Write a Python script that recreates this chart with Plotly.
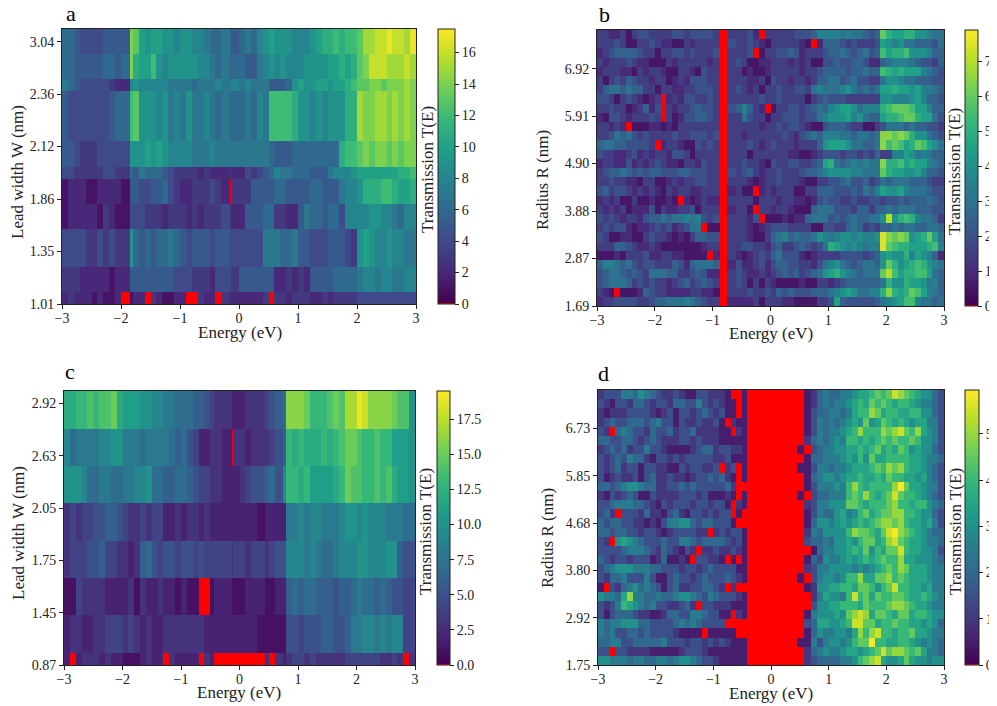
import numpy as np
import plotly.colors as pc
import plotly.graph_objects as go

# Values, rows go bottom to top, 0 means below the colour range (red)

# panel a: T(E), 11 rows x 60 energy bins
rows_a = [
    [2,3,2,2,2,1,2,1,1,2, 0,1,2,2,0,3,2,1,1,2, 2,0,0,3,2,2,0,3,2,2, 2,2,2,2,3,0,3,3,2,3, 3,3,2,2,3,2,3,3,3,3, 4,4,4,4,4,4,4,4,4,4],
    [3,3,3,2,2,2,2,2,1,2, 2,5,5,5,5,5,5,5,5,4, 4,4,3,3,3,2,4,4,4,3, 5,5,5,5,5,5,2,2,3,2, 3,2,5,5,5,5,6,6,6,6, 7,8,8,7,8,8,7,7,8,8],
    [4,4,4,4,3,3,4,3,4,3, 3,9,6,5,6,5,6,6,7,6, 5,4,5,5,5,4,5,5,4,4, 4,4,4,4,7,7,7,6,6,7, 5,5,4,4,4,5,5,5,4,3, 9,10,9,8,8,9,8,8,7,7],
    [1,2,2,2,2,2,1,3,2,1, 1,4,4,4,3,3,3,2,3,3, 3,2,3,2,3,3,3,4,3,2, 2,5,5,5,6,6,3,3,2,2, 5,7,6,6,5,6,6,4,8,8, 8,8,9,9,8,8,7,6,8,8],
    [1,2,2,2,1,1,2,2,2,2, 1,5,5,4,4,5,5,6,4,3, 2,2,3,3,3,4,3,2,0,3, 3,3,5,5,5,5,6,6,5,5, 5,5,6,6,5,5,5,7,8,8, 9,11,11,11,12,12,11,10,10,11],
    [4,4,3,3,3,3,3,4,4,3, 3,6,5,7,6,6,6,5,4,3, 3,3,3,2,3,2,2,2,3,2, 2,4,3,4,5,6,8,7,7,6, 6,6,5,5,5,7,8,8,8,9, 10,10,10,10,10,10,10,11,11,12],
    [5,5,4,3,3,3,4,4,4,4, 4,9,9,9,10,9,10,9,8,8, 8,8,7,7,7,8,7,7,7,7, 7,7,7,7,7,6,5,5,5,6, 6,6,6,6,6,6,6,11,12,12, 13,14,13,14,14,13,14,13,14,14],
    [5,4,4,4,4,4,4,4,5,6, 6,12,13,9,9,9,8,9,7,8, 7,9,7,7,8,7,6,7,6,6, 6,7,6,8,7,12,12,12,12,11, 9,9,8,9,8,9,9,9,11,11, 15,14,14,15,15,14,15,14,15,14],
    [7,6,5,4,4,4,4,4,3,2, 2,8,9,8,8,8,8,8,7,7, 7,7,6,7,7,7,8,7,7,8, 7,8,7,7,7,5,5,5,6,9, 10,9,9,10,10,9,10,10,11,12, 13,13,14,14,13,14,14,14,15,14],
    [6,6,5,5,5,5,5,6,6,5, 6,14,11,10,10,12,9,8,9,9, 9,9,9,8,8,7,6,7,5,6, 6,5,5,7,8,9,8,9,8,8, 8,9,9,9,9,10,10,11,10,11, 13,14,16,16,16,15,15,15,16,15],
    [6,6,5,4,4,4,4,5,5,5, 5,14,13,10,9,10,10,9,9,8, 9,9,8,8,7,6,6,7,6,5, 6,7,6,8,9,10,9,9,9,8, 8,8,9,10,11,11,12,11,12,12, 13,15,15,16,16,17,16,16,15,17],
]
ticks_a = ["1.01", "1.35", "1.86", "2.12", "2.36", "3.04"]
row_edges_a = [0, 0.235, 0.71, 1.42, 1.9, 2.38, 2.62, 3.1, 4.05, 4.29, 4.76, 5.24]

# panel c: T(E), 8 rows x 60 energy bins
rows_c = [
    [2,0,2,3,3,3,2,3,2,2, 1,1,1,2,3,2,2,0,3,2, 2,2,2,0,3,2,0,0,0,0, 0,0,0,0,3,0,3,2,3,4, 4,3,4,3,3,3,3,3,4,4, 4,4,4,4,3,3,4,3,0,3],
    [2,3,3,2,2,3,3,4,4,4, 3,4,3,2,3,2,2,3,3,3, 3,3,3,3,2,2,2,2,2,2, 2,2,2,1,1,1,1,1,5,5, 4,5,5,5,6,6,5,5,6,8, 8,9,9,8,9,8,9,9,4,4],
    [1,1,4,3,3,3,3,2,2,2, 2,3,1,3,2,2,3,2,2,1, 2,1,1,0,0,1,2,2,1,1, 1,2,2,2,1,1,2,2,6,7, 6,7,7,6,6,6,5,6,6,7, 8,7,7,6,7,6,5,5,4,4],
    [3,4,4,4,5,5,6,4,4,3, 3,2,3,6,7,5,4,5,5,4, 5,5,4,5,4,4,4,4,3,4, 4,3,4,4,3,4,5,5,9,9, 9,8,9,8,7,7,8,9,9,9, 10,10,9,9,9,10,10,6,5,5],
    [3,4,3,4,4,5,5,6,6,5, 4,3,3,4,3,4,4,2,2,3, 2,3,3,2,3,2,2,2,2,2, 2,2,2,1,2,2,2,2,8,8, 9,8,9,9,8,8,8,9,10,10, 9,10,9,9,9,8,8,8,7,7],
    [10,10,10,9,7,7,8,8,7,7, 8,8,9,9,10,7,7,6,6,7, 7,6,5,4,4,3,3,2,2,2, 3,4,5,5,6,7,5,9,13,13, 12,13,11,11,11,11,12,13,15,14, 14,13,13,14,13,14,12,11,11,10],
    [9,7,8,8,8,8,9,9,10,10, 8,8,8,7,8,8,8,8,7,6, 7,5,4,2,2,3,3,2,0,3, 3,2,3,3,3,4,5,6,13,12, 13,12,12,12,13,12,13,14,15,15, 14,13,13,14,13,13,11,11,11,10],
    [12,12,13,13,14,13,14,14,15,12, 11,11,11,10,10,9,9,8,8,7, 7,7,6,6,5,4,3,3,2,2, 2,3,3,3,4,5,6,7,16,16, 16,15,13,13,13,14,15,14,17,17, 19,18,16,16,16,16,15,14,14,10],
]
ticks_c = ["0.87", "1.45", "1.75", "2.05", "2.63", "2.92"]
row_edges_c = [0, 0.236, 0.955, 1.67, 2.37, 3.09, 3.80, 4.52, 5.24]

# panel b: T(E) in half units, 30 rows x 59 energy bins
rows_b = [
    [2,3,3,4,4,4,4,3,3,4, 5,5,6,6,6,7,6,5,4,3, 3,0,2, 2,2,2,3,1,3, 3,3,2,2,1,1,1,1,3,3, 4,9,5,4,4,4,4,4,5,6, 7,8,9,11,11,7,6,6,5,6],
    [3,2,1,0,1,1,1,2,5,4, 3,3,2,2,2,2,3,3,2,2, 1,0,3, 3,3,4,3,3,4, 3,5,4,5,4,4,4,5,5,5, 6,7,8,9,8,6,6,7,7,10, 13,10,9,10,12,11,9,7,6,5],
    [4,5,6,6,6,5,3,4,3,4, 3,3,2,3,4,5,3,4,5,4, 3,0,3, 4,3,1,3,1,3, 2,1,1,1,1,2,1,1,3,3, 2,3,4,5,5,5,5,5,5,6, 10,8,8,10,9,9,8,6,7,5],
    [4,5,6,6,5,4,5,4,3,6, 6,6,5,5,3,3,4,5,4,2, 2,0,3, 4,3,2,2,3,2, 3,4,5,4,5,3,4,5,6,8, 9,10,8,7,6,5,6,6,6,12, 14,11,9,10,10,11,11,9,6,5],
    [5,7,7,6,5,6,4,3,4,4, 3,3,3,5,4,2,5,6,6,6, 5,0,2, 4,2,2,3,4,2, 4,5,5,4,4,3,3,2,4,6, 7,8,6,5,4,5,6,6,5,8, 12,10,8,9,10,11,10,8,7,6],
    [1,1,1,2,1,3,3,3,4,2, 2,3,3,2,2,1,1,1,1,0, 2,0,3, 2,1,2,3,4,3, 5,6,4,4,4,2,1,2,3,3, 3,3,4,4,4,4,3,4,5,8, 9,8,8,10,7,9,8,7,5,2],
    [3,3,3,5,5,4,3,2,2,3, 2,1,1,1,1,1,1,1,2,3, 3,0,3, 3,4,4,3,3,2, 4,5,3,3,4,5,4,3,4,6, 10,9,8,7,8,7,6,7,7,15, 12,11,10,10,9,9,9,10,11,7],
    [4,3,1,1,2,2,1,1,3,4, 3,3,2,1,2,1,3,5,5,4, 4,0,3, 3,3,2,1,1,3, 5,6,7,5,6,5,5,6,8,7, 6,7,8,8,7,8,7,7,8,15, 13,12,13,12,8,9,10,12,9,6],
    [3,4,3,4,4,2,1,2,2,3, 4,3,4,2,3,4,6,6,0,1, 1,0,3, 3,3,2,1,2,3, 4,4,4,3,3,3,3,1,1,4, 4,3,3,5,6,5,3,4,3,5, 5,6,5,6,6,5,5,6,6,5],
    [4,3,4,3,2,3,3,2,4,5, 5,6,5,6,6,7,6,7,4,3, 4,0,3, 3,3,2,4,0,1, 1,1,2,1,2,2,5,6,6,6, 4,5,4,5,6,5,5,6,6,8, 14,8,10,11,10,7,6,6,5,3],
    [3,2,3,2,3,1,2,2,2,4, 1,3,2,2,3,3,4,1,3,3, 3,0,2, 3,3,1,0,3,3, 2,3,3,2,1,1,1,5,6,6, 6,4,4,4,3,5,5,3,5,5, 6,5,6,6,6,5,5,5,4,4],
    [2,3,2,3,1,1,3,1,1,2, 1,1,2,1,0,2,1,2,3,2, 2,0,3, 3,3,3,1,3,3, 3,2,3,3,2,2,1,2,4,5, 4,4,3,3,4,3,3,4,4,3, 4,4,5,4,5,5,5,6,5,4],
    [4,5,3,4,4,3,2,3,2,3, 2,1,3,2,3,3,2,2,3,3, 3,0,2, 3,1,1,0,2,3, 2,3,3,3,1,1,3,3,5,5, 5,4,4,4,5,4,6,5,7,9, 8,8,9,7,6,6,6,5,4,4],
    [3,3,4,3,3,2,2,1,3,3, 1,1,2,3,2,3,3,4,4,3, 3,0,3, 3,3,2,1,2,3, 3,4,3,3,3,2,1,1,3,3, 4,4,5,6,4,4,5,3,4,6, 5,6,6,6,5,5,5,4,3,3],
    [3,4,5,5,6,5,4,5,4,5, 5,4,4,4,5,5,4,4,4,3, 3,0,4, 3,4,5,3,2,3, 3,4,3,3,3,4,5,5,6,7, 8,8,8,8,7,7,6,6,6,12, 10,9,9,8,8,9,7,5,5,4],
    [2,3,3,2,2,4,2,3,2,3, 4,3,2,2,1,3,3,2,4,3, 3,0,3, 3,4,3,3,2,1, 4,3,3,4,4,3,3,4,5,9, 10,6,5,6,7,6,7,6,6,13, 10,10,11,9,10,9,9,7,6,5],
    [4,3,3,2,2,3,4,2,3,2, 3,3,2,4,4,3,1,3,3,3, 3,0,3, 3,3,1,3,3,3, 3,3,3,2,2,1,1,2,3,4, 4,4,3,4,4,3,4,3,5,3, 3,7,7,9,8,6,7,6,5,5],
    [5,6,6,5,5,4,4,4,4,3, 0,2,3,3,2,1,1,4,3,4, 3,0,3, 3,3,4,3,2,3, 4,3,3,3,2,3,3,3,5,8, 9,9,9,8,6,6,5,5,6,13, 11,12,11,9,10,12,11,9,8,6],
    [3,3,4,6,5,6,4,3,4,3, 3,3,3,4,3,3,4,4,4,3, 4,0,3, 3,2,3,3,3,3, 3,3,4,3,2,4,5,6,5,7, 7,7,6,6,5,6,6,5,6,13, 13,12,13,12,10,8,8,6,5,4],
    [3,3,2,3,2,0,1,1,1,2, 2,1,2,1,3,3,3,3,3,3, 3,0,3, 3,3,3,3,2,3, 3,4,3,4,4,3,2,1,1,4, 5,5,5,4,3,3,1,1,3,4, 6,6,6,5,6,5,5,4,4,3],
    [2,1,4,4,3,2,3,3,3,4, 3,0,3,1,2,4,4,5,5,4, 3,0,3, 3,6,4,3,3,1, 3,3,4,4,4,3,4,4,6,7, 8,8,8,9,7,8,6,5,5,9, 10,10,11,12,12,10,9,9,6,4],
    [3,3,4,3,3,1,2,3,5,2, 4,0,3,2,3,3,4,5,4,4, 3,0,4, 5,7,5,3,2,0, 1,3,3,4,4,3,4,5,6,5, 7,8,9,9,8,6,7,7,7,10, 11,12,12,12,11,9,9,7,5,5],
    [4,4,3,1,3,4,3,2,1,2, 3,0,2,3,2,4,4,3,3,4, 3,0,3, 3,3,3,3,4,3, 3,4,3,3,3,3,1,3,4,5, 4,4,4,3,3,3,3,3,3,8, 8,7,7,7,8,9,7,5,5,4],
    [3,5,6,6,5,6,5,5,3,3, 1,3,3,2,2,3,3,4,4,4, 3,0,3, 4,3,2,3,1,3, 3,4,3,3,4,4,3,6,7,6, 6,6,7,8,6,5,6,5,6,9, 9,10,9,9,8,9,7,7,6,5],
    [3,1,3,4,3,5,4,3,3,2, 3,3,1,2,3,2,4,4,4,3, 3,0,3, 3,3,2,2,3,1, 4,3,3,2,3,3,2,3,5,5, 6,6,4,5,6,4,4,3,3,6, 8,8,7,6,6,5,5,5,4,4],
    [2,3,3,3,2,2,1,3,2,3, 3,2,1,1,3,3,2,1,4,3, 3,0,3, 3,1,2,1,1,2, 3,3,3,3,3,2,3,3,4,5, 5,5,5,4,5,5,6,5,5,11, 10,9,10,9,9,9,7,6,5,4],
    [3,2,3,3,3,4,3,2,2,1, 1,1,3,2,3,3,3,3,3,2, 3,0,3, 4,3,1,1,2,2, 3,3,3,2,3,2,3,1,1,4, 4,5,4,4,5,5,4,2,2,5, 6,7,7,7,6,5,4,4,3,5],
    [2,3,4,5,5,5,5,4,3,3, 1,3,3,4,4,3,4,3,3,3, 4,0,3, 3,3,4,0,1,3, 3,4,4,5,4,2,3,3,3,4, 5,5,6,5,4,5,6,4,5,11, 9,10,10,11,8,8,8,7,5,5],
    [3,3,3,4,3,1,1,3,3,4, 3,2,2,1,1,3,2,3,3,3, 3,0,4, 3,3,4,3,2,1, 3,3,3,3,3,2,1,0,2,5, 5,5,4,3,4,3,3,3,4,9, 8,7,8,6,6,5,5,5,4,6],
    [3,3,2,2,3,1,3,4,4,3, 3,3,3,4,4,3,4,4,4,4, 3,0,3, 3,3,4,2,0,3, 3,3,3,3,4,4,4,5,7,7, 7,7,6,7,6,6,5,4,5,12, 10,9,9,10,10,8,8,7,6,6],
]
ticks_b = ["1.69", "2.87", "3.88", "4.90", "5.91", "6.92"]

# panel d: T(E) in half units, 30 rows x 52 energy bins
rows_d = [
    [6,6,5,5,5,4,5,5,4,4, 5,5,4,5,6,6,5,4,3,3, 2,1,1,1,1, 1,0,0,2, 3,4,4, 4,4,5,5,6,8,9,10,11,7, 6,6,7,9,7,6,6,5,6,6],
    [3,3,0,3,3,2,2,2,2,1, 1,1,1,1,2,3,3,3,2,1, 1,1,1,1,1, 1,0,0,2, 4,5,6, 5,5,6,7,7,6,7,8,9,11, 9,10,10,9,8,9,7,5,5,4],
    [4,4,5,5,3,3,4,4,4,4, 4,5,3,3,3,2,3,3,2,3, 2,3,2,1,1, 1,0,1,1, 5,3,5, 6,6,5,6,8,9,9,12,8,8, 7,7,8,8,7,6,5,6,5,4],
    [5,4,5,3,3,4,4,3,4,3, 3,3,3,2,1,1,1,1,0,1, 1,1,1,1,0, 0,0,0,1, 4,6,5, 5,6,6,5,7,10,8,10,11,8, 8,7,8,8,9,7,7,6,5,5],
    [5,4,5,5,6,6,6,4,4,3, 3,3,3,4,5,4,5,4,3,3, 3,3,0,0,0, 0,0,0,3, 4,7,7, 6,6,7,8,11,11,9,9,7,8, 8,9,8,8,7,7,6,7,6,4],
    [3,1,3,4,4,4,3,2,2,1, 1,2,4,4,3,3,5,5,4,3, 3,1,1,0,2, 1,0,0,1, 5,6,6, 6,7,6,9,10,11,10,7,9,9, 8,7,9,9,7,8,8,7,6,6],
    [3,2,3,5,8,7,6,5,4,5, 3,3,2,2,3,4,2,0,3,3, 2,2,2,1,1, 1,0,0,0, 3,6,6, 7,7,8,8,8,7,9,8,8,8, 9,10,10,9,8,7,7,6,5,5],
    [6,5,5,4,7,10,5,5,4,4, 5,4,4,5,6,6,5,4,3,5, 4,3,3,3,2, 1,0,0,0, 2,5,7, 6,6,5,8,11,8,9,7,9,8, 8,9,9,8,7,7,8,7,6,5],
    [1,0,3,2,4,5,6,4,5,4, 3,1,3,4,2,2,3,3,4,4, 3,2,0,2,0, 0,0,0,1, 2,6,6, 7,7,8,8,7,9,9,8,6,8, 9,11,8,8,7,7,6,7,5,5],
    [3,2,4,4,5,3,3,3,5,3, 1,1,3,4,3,3,2,3,4,3, 3,3,4,3,2, 1,0,1,0, 3,5,6, 6,5,6,8,8,10,7,7,9,9, 10,8,9,8,7,7,7,6,5,5],
    [3,4,5,6,6,6,5,5,5,4, 4,3,3,3,2,3,3,2,3,4, 3,3,3,3,1, 1,0,0,2, 3,5,5, 6,6,6,6,5,6,5,6,7,8, 9,8,10,9,7,7,7,6,5,5],
    [4,3,2,3,3,2,3,3,3,1, 2,4,1,1,2,1,0,3,3,2, 2,1,0,1,0, 1,0,0,1, 4,3,6, 5,5,6,7,6,7,8,7,8,9, 8,8,10,7,7,6,6,6,5,4],
    [3,3,3,3,4,5,5,5,4,3, 2,4,3,2,1,3,2,0,2,2, 3,2,2,3,2, 1,0,0,0, 1,4,5, 5,6,6,7,8,7,9,6,8,7, 9,9,11,8,7,7,6,6,5,3],
    [3,2,0,6,7,6,5,4,3,3, 3,4,3,3,5,5,4,3,4,4, 4,4,3,2,3, 1,0,0,3, 4,4,5, 4,6,6,7,6,8,9,9,7,8, 10,11,9,8,7,7,6,5,5,4],
    [4,4,3,4,4,3,3,2,3,3, 2,1,2,3,3,3,3,2,2,0, 2,3,2,3,3, 1,0,0,2, 5,4,6, 6,6,6,8,10,9,9,8,7,9, 11,12,10,9,8,7,6,5,4,4],
    [4,3,4,4,3,3,2,2,1,2, 1,3,5,5,6,6,4,3,4,4, 3,3,3,1,0, 0,0,0,1, 4,6,6, 5,6,7,6,7,8,7,8,9,10, 10,9,10,8,7,7,6,7,5,3],
    [3,4,2,0,3,3,3,2,4,2, 2,1,3,4,2,1,3,3,2,3, 2,3,3,0,1, 0,0,0,1, 3,5,4, 4,6,7,5,6,8,9,7,8,9, 9,10,10,8,8,7,6,6,4,3],
    [3,3,4,5,5,5,4,4,3,2, 1,3,2,3,3,3,2,3,3,2, 3,3,1,0,2, 1,0,0,2, 3,5,5, 6,6,6,9,9,8,7,8,8,8, 9,10,8,8,7,8,8,6,5,4],
    [2,1,3,2,3,4,3,1,1,3, 2,2,2,2,3,3,3,2,3,1, 1,1,2,1,0, 1,0,1,0, 3,4,4, 5,5,5,8,9,8,10,8,7,8, 9,11,9,8,8,7,6,5,4,3],
    [4,4,3,4,5,6,6,5,4,4, 2,2,3,3,4,3,4,3,3,3, 3,3,4,2,0, 0,0,0,1, 3,5,5, 5,6,5,8,10,8,7,8,8,8, 8,10,12,9,7,7,6,5,5,3],
    [3,1,2,3,2,2,3,1,3,4, 2,2,3,2,2,1,2,3,3,4, 3,4,2,1,0, 1,0,0,1, 4,5,6, 6,5,6,7,7,8,7,7,8,7, 9,8,8,7,7,6,7,5,4,3],
    [3,2,3,4,2,3,3,1,3,3, 2,2,1,1,3,2,3,3,2,2, 3,0,2,3,0, 1,0,1,1, 3,5,5, 4,5,5,6,7,7,7,8,9,8, 10,9,10,8,7,7,6,5,4,3],
    [3,2,3,4,3,5,4,4,2,1, 3,3,2,3,2,3,3,3,3,3, 2,2,3,1,1, 1,0,0,1, 4,4,5, 5,5,6,7,6,8,6,9,7,7, 8,8,8,8,7,7,6,5,5,4],
    [2,3,4,3,4,2,3,3,5,3, 3,2,1,1,1,1,2,3,4,4, 2,3,3,2,2, 1,0,1,0, 3,4,5, 5,6,6,7,7,8,7,8,9,7, 8,7,9,8,6,7,6,6,4,3],
    [4,4,3,3,4,4,3,2,3,4, 3,2,2,2,3,3,2,3,2,2, 2,1,1,1,1, 1,0,0,2, 4,5,4, 5,6,5,8,8,7,8,7,8,9, 8,9,8,8,9,8,6,6,5,3],
    [3,2,0,4,5,4,3,3,2,4, 3,3,4,2,3,3,4,2,2,2, 2,1,1,0,2, 1,0,0,1, 3,5,4, 5,5,6,7,8,10,8,8,8,10, 9,10,11,9,8,10,7,6,5,3],
    [2,3,4,3,3,4,4,4,3,4, 5,3,3,1,3,2,2,3,2,2, 3,1,0,2,1, 1,0,0,1, 3,5,4, 5,4,5,6,7,6,9,6,7,9, 8,7,8,7,6,7,7,5,5,3],
    [2,1,2,2,2,3,3,3,3,2, 1,2,3,1,3,3,2,3,4,3, 2,3,1,1,0, 1,0,0,1, 3,4,4, 5,5,4,5,7,8,8,10,9,7, 8,8,7,7,8,8,6,6,4,3],
    [3,2,1,3,3,2,4,4,3,2, 3,3,2,4,4,3,3,5,3,2, 3,2,1,1,0, 1,0,0,1, 2,4,5, 4,5,5,6,7,8,7,9,8,9, 8,7,8,8,7,6,5,5,4,3],
    [2,3,3,3,5,5,4,6,5,4, 3,2,2,3,2,1,1,3,3,2, 2,2,1,0,0, 1,0,0,1, 2,4,5, 4,4,5,5,6,7,7,8,9,8, 9,11,10,9,8,7,6,6,4,3],
]
ticks_d = ["1.75", "2.92", "3.80", "4.68", "5.85", "6.73"]

energy_ticks = [-3, -2, -1, 0, 1, 2, 3]
cbar_ticks_a = [0, 2, 4, 6, 8, 10, 12, 14, 16]
cbar_ticks_b = [0, 1, 2, 3, 4, 5, 6, 7]
cbar_ticks_c = [0, 2.5, 5, 7.5, 10, 12.5, 15, 17.5]
cbar_ticks_d = [0, 1, 2, 3, 4, 5]


def edges(*parts):
    return np.round(np.concatenate(parts), 2)


# energy bin edges, 0.1 eV apart except where a sharp step or thin red line sits in the picture
edges_a = edges(np.arange(-3, -1.95, 0.1), [-1.85], np.arange(-1.8, -0.25, 0.1), [-0.16, -0.14],
                np.arange(0, 3.05, 0.1))
edges_c = edges(np.arange(-3, -0.45, 0.1), [-0.43, -0.3, -0.13, -0.11, 0, 0.1, 0.2, 0.3, 0.43],
                [0.5, 0.6, 0.75], np.arange(0.8, 3.05, 0.1))
edges_b = edges(np.arange(-3, -0.95, 0.1), [-0.87, -0.75], np.arange(-0.6, 3.05, 0.1))
edges_d = edges(np.arange(-3, -0.45, 0.1), [-0.42, 0.45, 0.58], np.arange(0.7, 3.05, 0.1))
row_edges_30 = np.arange(31)

# red below the range, viridis above it
low = 0.005
viridis = pc.sequential.Viridis
red_viridis = [[0, "red"], [low, "red"]]
for i, c in enumerate(viridis):
    red_viridis.append([low + (1 - low) * i / (len(viridis) - 1), c])

# the page body has an 8px margin, so the figure is 8px smaller and everything moves by 8
OFF = 8
W, H = 997 - OFF, 706 - OFF
FONT = "Liberation Serif"
INK = "#222222"

fig = go.Figure()


def label(text, px, py, size=17, angle=0, color=INK):
    fig.add_annotation(text=text, textangle=angle, showarrow=False,
                       xref="paper", yref="paper", x=(px - OFF) / W, y=1 - (py - OFF) / H,
                       xanchor="center", yanchor="middle",
                       font=dict(family=FONT, size=size, color=color))


def panel(n, z, xe, ye, zmax, box, cb_x, cb_w, cb_ticks, yticks, ytickvals, yrange, cb_format):
    x0, x1, y0, y1 = [v - OFF for v in box]
    sfx = "" if n == 1 else str(n)
    fig.add_trace(go.Heatmap(
        z=z, x=xe, y=ye, zmin=0, zmax=zmax,
        colorscale=red_viridis,
        xaxis="x" + sfx, yaxis="y" + sfx,
        colorbar=dict(
            x=(cb_x - OFF) / W, xanchor="left", xpad=0, ypad=0,
            y=1 - y1 / H, yanchor="bottom",
            len=(y1 - y0) / H, lenmode="fraction",
            thickness=cb_w, thicknessmode="pixels",
            tickvals=cb_ticks, tickformat=cb_format,
            ticks="outside", ticklen=4, tickwidth=1, tickcolor=INK,
            outlinecolor=INK, outlinewidth=1,
            tickfont=dict(family=FONT, size=14, color=INK),
        ),
    ))
    axis_common = dict(showgrid=False, zeroline=False, showline=True, mirror=True,
                       linecolor=INK, linewidth=1, ticks="outside", ticklen=4,
                       tickcolor=INK, tickfont=dict(family=FONT, size=14, color=INK))
    fig.update_layout({
        "xaxis" + sfx: dict(domain=[x0 / W, x1 / W], range=[-3, 3], anchor="y" + sfx,
                            tickvals=energy_ticks, ticklabelstandoff=-3, **axis_common),
        "yaxis" + sfx: dict(domain=[1 - y1 / H, 1 - y0 / H], range=yrange, anchor="x" + sfx,
                            tickvals=ytickvals, ticktext=yticks, **axis_common),
    })


panel(1, rows_a, edges_a, row_edges_a, 17.5, (62, 416, 29, 304), 438, 17, cbar_ticks_a,
      ticks_a, [0, 1, 2, 3, 4, 5], [0, 5.24], None)
panel(2, (np.array(rows_b) / 2).tolist(), edges_b, row_edges_30, 7.9, (597, 944, 30, 306), 965, 13, cbar_ticks_b,
      ticks_b, [0, 5.16, 10.32, 15.48, 20.64, 25.8], [0, 30], None)
panel(3, rows_c, edges_c, row_edges_c, 19.5, (64, 415, 391, 665), 437, 13, cbar_ticks_c,
      ticks_c, [0, 1, 2, 3, 4, 5], [0, 5.24], ".1f")
panel(4, (np.array(rows_d) / 2).tolist(), edges_d, row_edges_30, 5.95, (598, 944, 390, 665), 965, 14, cbar_ticks_d,
      ticks_d, [0, 5.16, 10.32, 15.48, 20.64, 25.8], [0, 30], None)

for px, py in [(240, 332), (771, 334), (239, 692), (771, 693)]:
    label("Energy (eV)", px, py)
for text, px, py in [("Lead width W (nm)", 18, 172), ("Radius R (nm)", 543, 180),
                     ("Lead width W (nm)", 18, 533), ("Radius R (nm)", 547, 538)]:
    label(text, px, py, angle=-90)
for px, py in [(427, 170), (955, 172), (425, 532), (955, 532)]:
    label("Transmission T(E)", px, py, angle=-90)
for letter, px, py in [("a", 71, 14), ("b", 604, 15), ("c", 70, 372), ("d", 603, 374)]:
    label(letter, px, py, size=22, color="black")

fig.update_layout(width=W, height=H, margin=dict(l=0, r=0, t=0, b=0, autoexpand=False),
                  paper_bgcolor="white", plot_bgcolor="white", showlegend=False,
                  font=dict(family=FONT))

fig.write_html("out.html")
